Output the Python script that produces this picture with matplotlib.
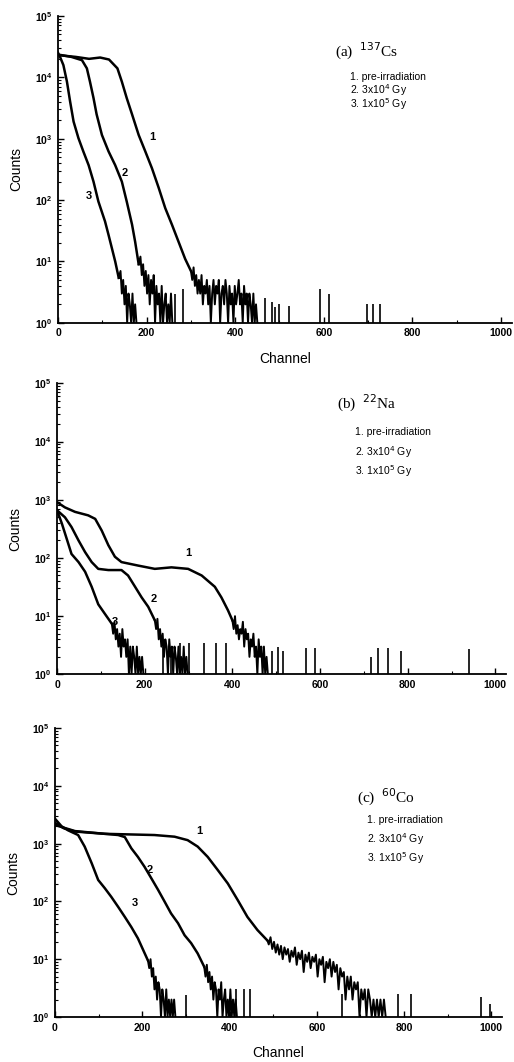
import numpy as np
import matplotlib
matplotlib.use("Agg")
import matplotlib.pyplot as plt
from matplotlib.ticker import LogLocator, FixedLocator, NullFormatter

# ---------------- data ----------------
# Panel (a) 137Cs  (channel, counts)
a1_ch = [0, 40, 70, 95, 115, 134, 144, 155, 167, 182, 197, 212, 227, 242, 257, 272, 287, 300]
a1_ct = [23000, 21500, 20000, 21000, 19500, 14000, 8500, 4600, 2500, 1150, 620, 330, 160, 74, 40, 21, 11, 7]
a1_tail_ch = [303, 306, 309, 312, 315, 318, 321, 324, 327, 330, 333, 336, 339, 342, 345, 348, 351, 354,
              357, 360, 363, 366, 369, 372, 375, 378, 381, 384, 387, 390, 393, 396, 399, 402, 405, 408,
              411, 414, 417, 420, 423, 426, 429, 432, 435, 438, 441, 444, 447, 450]
a1_tail_ct = [5, 8, 4, 6, 3, 5, 3, 6, 2, 4, 3, 5, 2, 4, 1, 3, 5, 2, 4, 3, 5, 1, 3, 4, 2, 5, 3, 1, 4, 2,
              3, 1, 4, 2, 3, 5, 2, 3, 1, 4, 2, 3, 1, 3, 2, 1, 3, 1, 2, 1]
a2_ch = [0, 30, 54, 65, 72, 80, 87, 99, 114, 129, 144, 155, 167, 174, 182]
a2_ct = [23500, 21500, 19000, 14000, 8500, 4600, 2500, 1150, 620, 370, 200, 95, 40, 21, 9]
a2_tail_ch = [186, 189, 192, 195, 198, 201, 204, 207, 210, 213, 216, 219, 222, 225, 228, 231, 234, 237,
              240, 243, 246, 249, 252, 255, 258]
a2_tail_ct = [12, 6, 9, 4, 7, 3, 6, 2, 5, 3, 6, 1, 4, 2, 3, 1, 4, 1, 2, 3, 1, 2, 1, 3, 1]
a3_ch = [0, 5, 12, 20, 27, 35, 46, 57, 69, 80, 91, 106, 114, 121, 129, 137]
a3_ct = [25000, 21000, 15800, 8500, 4100, 1900, 1020, 620, 370, 200, 95, 45, 27, 17, 10, 5.4]
a3_tail_ch = [141, 144, 147, 150, 153, 156, 159, 162, 165, 168, 171, 174, 177]
a3_tail_ct = [7, 3, 5, 2, 4, 1, 3, 2, 1, 3, 1, 2, 1]
a_spk_ch = [263, 281, 468, 483, 490, 498, 522, 592, 611, 698, 711, 728]
a_spk_ct = [3, 3.5, 2.5, 2.2, 1.8, 2, 1.9, 3.6, 2.9, 2, 2, 2]

# Panel (b) 22Na
b1_ch = [0, 18, 41, 71, 87, 102, 117, 132, 147, 185, 223, 261, 299, 330, 360, 375, 390, 400]
b1_ct = [910, 740, 620, 540, 470, 295, 166, 105, 85, 74, 65, 69, 65, 50, 32, 21, 12.6, 8.5]
b1_tail_ch = [403, 406, 409, 412, 415, 418, 421, 424, 427, 430, 433, 436, 439, 442, 445, 448, 451, 454,
              457, 460, 463, 466, 469, 472, 475, 478, 481]
b1_tail_ct = [6, 10, 5, 7, 4, 6, 5, 8, 3, 6, 4, 5, 2, 4, 3, 5, 2, 3, 1, 4, 2, 3, 1, 3, 1, 2, 1]
b2_ch = [0, 18, 33, 49, 64, 79, 94, 117, 147, 162, 178, 193, 208, 223]
b2_ct = [660, 500, 340, 200, 126, 85, 65, 62, 62, 50, 32, 21, 14.5, 8.5]
b2_tail_ch = [226, 229, 232, 235, 238, 241, 244, 247, 250, 253, 256, 259, 262, 265, 268, 271, 274, 277,
              280, 283, 286, 289, 292, 295, 298]
b2_tail_ct = [6, 9, 4, 6, 3, 5, 2, 4, 3, 1, 4, 2, 3, 1, 3, 2, 1, 3, 1, 2, 1, 3, 1, 2, 1]
b3_ch = [0, 11, 22, 33, 49, 64, 79, 94, 109, 125]
b3_ct = [660, 390, 214, 117, 85, 58, 32, 16, 11, 7.4]
b3_tail_ch = [128, 131, 134, 137, 140, 143, 146, 149, 152, 155, 158, 161, 164, 167, 170, 173, 176, 179,
              182, 185, 188, 191, 194, 197]
b3_tail_ct = [5, 8, 4, 6, 3, 5, 2, 6, 3, 4, 2, 4, 1, 3, 1, 3, 2, 1, 3, 1, 2, 1, 2, 1]
b_spk_ch = [242, 261, 280, 300, 335, 362, 386, 491, 503, 515, 569, 589, 717, 733, 754, 785, 940]
b_spk_ct = [3, 3, 3.5, 3.5, 3.5, 3.5, 3.5, 2.5, 3, 2.5, 2.8, 2.8, 2, 2.8, 2.8, 2.5, 2.7]

# Panel (c) 60Co
c1_ch = [0, 20, 46, 114, 228, 274, 304, 327, 350, 373, 396, 419, 441, 464, 487]
c1_ct = [2300, 1850, 1620, 1480, 1410, 1320, 1150, 890, 590, 350, 205, 105, 54, 32, 21]
c1_tail_ch = [490, 494, 498, 502, 506, 510, 514, 518, 522, 526, 530, 534, 538, 542, 546, 550, 554, 558,
              562, 566, 570, 574, 578, 582, 586, 590, 594, 598, 602, 606, 610, 614, 618, 622, 626, 630,
              634, 638, 642, 646, 650, 654, 658, 662, 666, 670, 674, 678, 682, 686, 690, 694, 698, 702,
              706, 710, 714, 718, 722, 726, 730, 734, 738, 742, 746, 750, 754, 758]
c1_tail_ct = [18, 24, 15, 20, 13, 18, 12, 17, 10, 16, 12, 15, 9, 14, 11, 16, 8, 13, 10, 14, 6, 12, 9,
              13, 7, 11, 9, 12, 5, 10, 8, 11, 4, 9, 7, 10, 5, 9, 6, 8, 3, 7, 5, 6, 2, 5, 3, 5, 2, 4,
              3, 4, 1, 3, 2, 3, 1, 3, 2, 1, 2, 1, 2, 1, 2, 1, 2, 1]
c2_ch = [0, 46, 114, 145, 160, 175, 190, 205, 221, 236, 251, 266, 282, 297, 312, 327, 342]
c2_ct = [2100, 1650, 1480, 1410, 1300, 830, 590, 400, 250, 160, 100, 62, 42, 26, 19, 12.6, 7.4]
c2_tail_ch = [345, 348, 351, 354, 357, 360, 363, 366, 369, 372, 375, 378, 381, 384, 387, 390, 393, 396,
              399, 402, 405, 408, 411, 414, 417]
c2_tail_ct = [5, 8, 4, 6, 3, 5, 2, 4, 3, 1, 3, 2, 4, 1, 2, 3, 1, 2, 1, 3, 1, 2, 1, 2, 1]
c3_ch = [0, 15, 30, 53, 68, 84, 99, 114, 129, 145, 160, 175, 190, 202, 213]
c3_ct = [2700, 2000, 1700, 1410, 890, 460, 235, 170, 120, 80, 54, 36, 23, 14.5, 9.5]
c3_tail_ch = [216, 219, 222, 225, 228, 231, 234, 237, 240, 243, 246, 249, 252, 255, 258, 261, 264, 267,
              270, 273, 276]
c3_tail_ct = [7, 10, 5, 7, 3, 5, 2, 4, 3, 1, 3, 2, 1, 3, 1, 2, 1, 2, 1, 2, 1]
c_spk_ch = [300, 414, 433, 446, 658, 787, 817, 977, 998]
c_spk_ct = [2.4, 3, 3, 3, 2.5, 2.5, 2.5, 2.2, 1.7]

legend_lines = ["1. pre-irradiation", "2. 3x10$^4$ Gy", "3. 1x10$^5$ Gy"]
x_ticks = [0, 200, 400, 600, 800, 1000]

# ---------------- drawing ----------------
SANS = "Liberation Sans"
SERIF = "Liberation Serif"

fig = plt.figure(figsize=(5.14, 10.62), dpi=100)

panels = [
    dict(rect=[0.113, 0.696, 0.883, 0.289], title="(a)  $^{137}$Cs", tpos=(0.61, 0.885),
         lpos=(0.643, [0.80, 0.759, 0.713]),
         curves=[(a1_ch, a1_ct, a1_tail_ch, a1_tail_ct),
                 (a2_ch, a2_ct, a2_tail_ch, a2_tail_ct),
                 (a3_ch, a3_ct, a3_tail_ch, a3_tail_ct)],
         spikes=(a_spk_ch, a_spk_ct),
         labels=[(213, 1070), (150, 280), (70, 118)], xlabel=True),
    dict(rect=[0.111, 0.365, 0.874, 0.274], title="(b)  $^{22}$Na", tpos=(0.624, 0.931),
         lpos=(0.664, [0.832, 0.763, 0.698]),
         curves=[(b1_ch, b1_ct, b1_tail_ch, b1_tail_ct),
                 (b2_ch, b2_ct, b2_tail_ch, b2_tail_ct),
                 (b3_ch, b3_ct, b3_tail_ch, b3_tail_ct)],
         spikes=(b_spk_ch, b_spk_ct),
         labels=[(299, 120), (221, 20), (132, 8)], xlabel=False),
    dict(rect=[0.107, 0.0424, 0.870, 0.272], title="(c)  $^{60}$Co", tpos=(0.676, 0.761),
         lpos=(0.698, [0.682, 0.616, 0.550]),
         curves=[(c1_ch, c1_ct, c1_tail_ch, c1_tail_ct),
                 (c2_ch, c2_ct, c2_tail_ch, c2_tail_ct),
                 (c3_ch, c3_ct, c3_tail_ch, c3_tail_ct)],
         spikes=(c_spk_ch, c_spk_ct),
         labels=[(331, 1650), (217, 350), (183, 95)], xlabel=True),
]

for p in panels:
    ax = fig.add_axes(p["rect"])
    ax.set_yscale("log")
    ax.set_xlim(0, 1025)
    ax.set_ylim(1, 1e5)
    for s in ("top", "right"):
        ax.spines[s].set_visible(False)
    for s in ("left", "bottom"):
        ax.spines[s].set_linewidth(1.3)

    for ch, ct, tch, tct in p["curves"]:
        ax.plot(ch, ct, color="black", lw=1.8)
        ax.plot(np.concatenate([ch[-1:], tch]), np.concatenate([ct[-1:], tct]),
                color="black", lw=1.4)
    sch, sct = p["spikes"]
    ax.vlines(sch, 1, sct, color="black", lw=1.2)

    for i, (lx, ly) in enumerate(p["labels"]):
        ax.text(lx, ly, str(i + 1), fontsize=8, fontweight="bold", family=SANS,
                ha="center", va="center")

    ax.text(p["tpos"][0], p["tpos"][1], p["title"], transform=ax.transAxes,
            fontsize=11, family=SERIF, ha="left", va="center")
    lx, lys = p["lpos"]
    for t, ly in zip(legend_lines, lys):
        ax.text(lx, ly, t, transform=ax.transAxes, fontsize=7.5, family=SANS,
                ha="left", va="center")

    ax.xaxis.set_major_locator(FixedLocator(x_ticks))
    ax.xaxis.set_minor_locator(FixedLocator([100, 300, 500, 700, 900]))
    ax.yaxis.set_major_locator(LogLocator(base=10, numticks=10))
    ax.yaxis.set_minor_locator(LogLocator(base=10, subs=np.arange(2, 10), numticks=20))
    ax.yaxis.set_minor_formatter(NullFormatter())
    ax.tick_params(axis="both", which="major", direction="in", length=4, width=1.0,
                   labelsize=7.5, pad=4)
    ax.tick_params(axis="both", which="minor", direction="in", length=2, width=0.8)
    for lab in ax.get_xticklabels() + ax.get_yticklabels():
        lab.set_fontweight("bold")
        lab.set_family(SANS)

    ax.set_ylabel("Counts", fontsize=10, family=SANS, labelpad=8)
    if p["xlabel"]:
        ax.set_xlabel("Channel", fontsize=10, family=SANS, labelpad=10)

fig.savefig("out.png", dpi=100)
